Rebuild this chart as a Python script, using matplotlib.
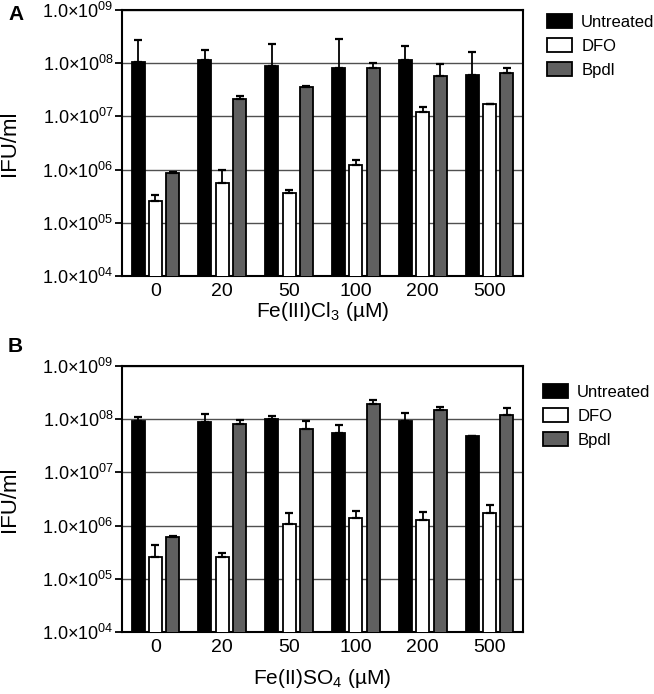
import matplotlib
matplotlib.use("Agg")
import matplotlib.pyplot as plt
import numpy as np
from matplotlib.patches import Patch
from matplotlib.ticker import FixedLocator, FuncFormatter, NullLocator

plt.rcParams['font.family'] = ['Liberation Sans', 'DejaVu Sans']
plt.rcParams['mathtext.default'] = 'regular'

concentrations = ["0", "20", "50", "100", "200", "500"]
series = ["Untreated", "DFO", "Bpdl"]

# Panel A: Fe(III)Cl3
a_untreated = [1.06e8, 1.17e8, 9.0e7, 8.2e7, 1.14e8, 6.0e7]
a_untreated_top = [2.7e8, 1.75e8, 2.27e8, 2.8e8, 2.08e8, 1.63e8]
a_dfo = [2.6e5, 5.7e5, 3.7e5, 1.24e6, 1.2e7, 1.68e7]
a_dfo_top = [3.4e5, 9.7e5, 4.2e5, 1.5e6, 1.47e7, 1.72e7]
a_bpdl = [8.5e5, 2.1e7, 3.6e7, 8.1e7, 5.7e7, 6.5e7]
a_bpdl_top = [8.9e5, 2.44e7, 3.76e7, 9.9e7, 9.7e7, 8.06e7]

# Panel B: Fe(II)SO4
b_untreated = [9.3e7, 8.8e7, 1.0e8, 5.4e7, 9.2e7, 4.8e7]
b_untreated_top = [1.09e8, 1.24e8, 1.14e8, 7.8e7, 1.3e8, 4.85e7]
b_dfo = [2.58e5, 2.55e5, 1.09e6, 1.37e6, 1.28e6, 1.73e6]
b_dfo_top = [4.3e5, 3.03e5, 1.7e6, 1.86e6, 1.78e6, 2.44e6]
b_bpdl = [6.2e5, 8.3e7, 6.5e7, 1.94e8, 1.47e8, 1.2e8]
b_bpdl_top = [6.4e5, 9.7e7, 9.4e7, 2.3e8, 1.68e8, 1.6e8]

y_ticks = [1e4, 1e5, 1e6, 1e7, 1e8, 1e9]

colors = ["#000000", "#ffffff", "#606060"]

W, H = 654, 694
fig = plt.figure(figsize=(W / 100, H / 100), dpi=100)
LEFT, RIGHT = 122, 523


def make_axes(top_px, bottom_px):
    return fig.add_axes([LEFT / W, 1 - bottom_px / H,
                         (RIGHT - LEFT) / W, (bottom_px - top_px) / H])


def draw_panel(ax, vals, tops, xlabel, xlabelpad):
    x = np.arange(len(concentrations))
    offsets = [-0.26, 0.0, 0.26]
    width = 0.195
    for i, (v, t) in enumerate(zip(vals, tops)):
        v = np.array(v)
        t = np.array(t)
        ax.bar(x + offsets[i], v, width=width, bottom=1e-10,
               color=colors[i], edgecolor='black', linewidth=1.3, zorder=3)
        ax.errorbar(x + offsets[i], v, yerr=[np.zeros_like(v), t - v],
                    fmt='none', ecolor='black', elinewidth=1.3, capsize=3.2,
                    capthick=1.6, zorder=4)
    ax.set_yscale('log')
    ax.set_ylim(1e4, 1e9)
    ax.set_xlim(-0.5, 5.5)
    ax.yaxis.set_major_locator(FixedLocator(y_ticks))
    ax.yaxis.set_minor_locator(NullLocator())
    ax.yaxis.set_major_formatter(FuncFormatter(
        lambda v, p: "1.0×10$^{%02d}$" % int(round(np.log10(v)))))
    ax.set_xticks(x)
    ax.set_xticklabels(concentrations)
    ax.tick_params(axis='x', length=0, labelsize=14, pad=5)
    ax.tick_params(axis='y', length=5, width=1.3, labelsize=13, pad=1)
    ax.yaxis.grid(True, color='#505050', linewidth=1.0, zorder=0)
    ax.set_axisbelow(True)
    for s in ax.spines.values():
        s.set_linewidth(1.5)
    ax.set_xlabel(xlabel, fontsize=15, labelpad=xlabelpad)
    ax.set_ylabel("IFU/ml", fontsize=16)
    ax.yaxis.set_label_coords((20 - LEFT) / (RIGHT - LEFT), 0.5)


axA = make_axes(10, 276)
draw_panel(axA, [a_untreated, a_dfo, a_bpdl],
           [a_untreated_top, a_dfo_top, a_bpdl_top], "Fe(III)Cl$_3$ (µM)", 0)
axB = make_axes(366, 632)
draw_panel(axB, [b_untreated, b_dfo, b_bpdl],
           [b_untreated_top, b_dfo_top, b_bpdl_top], "Fe(II)SO$_4$ (µM)", 8)

handles = [Patch(facecolor=c, edgecolor='black', linewidth=1.3) for c in colors]
for ax, (lx, ly) in [(axA, (547, 14)), (axB, (543, 384))]:
    fig.legend(handles, series, loc='upper left',
               bbox_to_anchor=(lx / W, 1 - ly / H), frameon=False,
               fontsize=12, handlelength=1.5, handleheight=0.9,
               handletextpad=0.55, labelspacing=0.5, borderpad=0,
               borderaxespad=0)

fig.text(8 / W, 1 - 14 / H, "A", fontsize=15, fontweight='bold', va='center')
fig.text(8 / W, 1 - 346 / H, "B", fontsize=15, fontweight='bold', va='center')

fig.savefig("out.png", dpi=100)
